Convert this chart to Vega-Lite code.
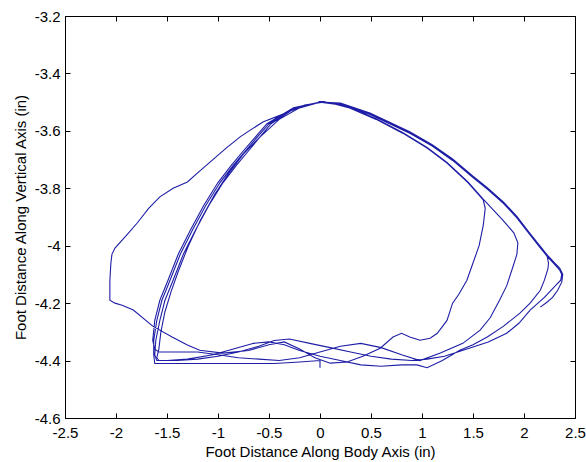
{
  "$schema": "https://vega.github.io/schema/vega-lite/v6.json",
  "width": 510,
  "height": 402,
  "autosize": "none",
  "padding": {"left": 65, "top": 16, "right": 11, "bottom": 44},
  "background": "white",
  "config": {
    "view": {"stroke": "black", "strokeWidth": 1},
    "font": "Liberation Sans",
    "axis": {
      "grid": false,
      "domain": false,
      "offset": -5,
      "tickSize": 5,
      "tickColor": "black",
      "labelColor": "black",
      "titleColor": "black",
      "labelFont": "Liberation Sans",
      "titleFont": "Liberation Sans",
      "labelFontSize": 15,
      "titleFontSize": 15,
      "titleFontWeight": "normal",
      "labelFlush": false,
      "labelOverlap": false
    }
  },
  "data": {"values": [
    {"i":1,"x":0.0,"y":-4.425},{"i":2,"x":0.0,"y":-4.40},{"i":3,"x":-0.2,"y":-4.405},{"i":4,"x":-0.45,"y":-4.41},{"i":5,"x":-0.7,"y":-4.41},{"i":6,"x":-0.95,"y":-4.41},{"i":7,"x":-1.2,"y":-4.41},{"i":8,"x":-1.45,"y":-4.41},{"i":9,"x":-1.62,"y":-4.41},{"i":10,"x":-1.63,"y":-4.38},
    {"i":11,"x":-1.63,"y":-4.33},{"i":12,"x":-1.60,"y":-4.26},{"i":13,"x":-1.55,"y":-4.19},{"i":14,"x":-1.47,"y":-4.12},{"i":15,"x":-1.37,"y":-4.03},{"i":16,"x":-1.25,"y":-3.945},{"i":17,"x":-1.12,"y":-3.86},{"i":18,"x":-0.98,"y":-3.78},{"i":19,"x":-0.85,"y":-3.72},{"i":20,"x":-0.72,"y":-3.665},
    {"i":21,"x":-0.5,"y":-3.575},{"i":22,"x":-0.25,"y":-3.52},{"i":23,"x":0.0,"y":-3.50},{"i":24,"x":0.2,"y":-3.505},{"i":25,"x":0.49,"y":-3.54},{"i":26,"x":0.88,"y":-3.605},{"i":27,"x":1.10,"y":-3.65},{"i":28,"x":1.30,"y":-3.70},{"i":29,"x":1.50,"y":-3.76},{"i":30,"x":1.64,"y":-3.80},
    {"i":31,"x":1.80,"y":-3.85},{"i":32,"x":1.93,"y":-3.90},{"i":33,"x":2.05,"y":-3.955},{"i":34,"x":2.15,"y":-4.00},{"i":35,"x":2.225,"y":-4.033},{"i":36,"x":2.24,"y":-4.06},{"i":37,"x":2.235,"y":-4.08},{"i":38,"x":2.20,"y":-4.12},{"i":39,"x":2.16,"y":-4.155},{"i":40,"x":2.06,"y":-4.20},
    {"i":41,"x":1.96,"y":-4.235},{"i":42,"x":1.80,"y":-4.28},{"i":43,"x":1.64,"y":-4.318},{"i":44,"x":1.50,"y":-4.345},{"i":45,"x":1.37,"y":-4.364},{"i":46,"x":1.2,"y":-4.40},{"i":47,"x":1.05,"y":-4.425},{"i":48,"x":0.95,"y":-4.415},{"i":49,"x":0.8,"y":-4.415},{"i":50,"x":0.6,"y":-4.42},
    {"i":51,"x":0.4,"y":-4.415},{"i":52,"x":0.2,"y":-4.40},{"i":53,"x":0.0,"y":-4.385},{"i":54,"x":-0.2,"y":-4.365},{"i":55,"x":-0.35,"y":-4.345},{"i":56,"x":-0.5,"y":-4.335},{"i":57,"x":-0.65,"y":-4.34},{"i":58,"x":-0.85,"y":-4.36},{"i":59,"x":-1.05,"y":-4.38},{"i":60,"x":-1.3,"y":-4.395},
    {"i":61,"x":-1.5,"y":-4.40},{"i":62,"x":-1.60,"y":-4.40},{"i":63,"x":-1.62,"y":-4.38},{"i":64,"x":-1.61,"y":-4.33},{"i":65,"x":-1.57,"y":-4.26},{"i":66,"x":-1.52,"y":-4.19},{"i":67,"x":-1.44,"y":-4.12},{"i":68,"x":-1.34,"y":-4.03},{"i":69,"x":-1.22,"y":-3.945},{"i":70,"x":-1.09,"y":-3.86},
    {"i":71,"x":-0.95,"y":-3.78},{"i":72,"x":-0.82,"y":-3.72},{"i":73,"x":-0.69,"y":-3.665},{"i":74,"x":-0.48,"y":-3.575},{"i":75,"x":-0.24,"y":-3.52},{"i":76,"x":0.0,"y":-3.50},{"i":77,"x":0.15,"y":-3.507},{"i":78,"x":0.29,"y":-3.52},{"i":79,"x":0.55,"y":-3.56},{"i":80,"x":0.81,"y":-3.608},
    {"i":81,"x":1.05,"y":-3.66},{"i":82,"x":1.245,"y":-3.712},{"i":83,"x":1.45,"y":-3.78},{"i":84,"x":1.6,"y":-3.84},{"i":85,"x":1.62,"y":-3.87},{"i":86,"x":1.60,"y":-3.93},{"i":87,"x":1.56,"y":-4.00},{"i":88,"x":1.50,"y":-4.06},{"i":89,"x":1.44,"y":-4.12},{"i":90,"x":1.36,"y":-4.17},
    {"i":91,"x":1.30,"y":-4.20},{"i":92,"x":1.245,"y":-4.26},{"i":93,"x":1.15,"y":-4.305},{"i":94,"x":1.08,"y":-4.322},{"i":95,"x":0.98,"y":-4.329},{"i":96,"x":0.88,"y":-4.318},{"i":97,"x":0.80,"y":-4.305},{"i":98,"x":0.716,"y":-4.318},{"i":99,"x":0.59,"y":-4.357},{"i":100,"x":0.42,"y":-4.385},
    {"i":101,"x":0.265,"y":-4.405},{"i":102,"x":0.1,"y":-4.409},{"i":103,"x":-0.05,"y":-4.39},{"i":104,"x":-0.2,"y":-4.36},{"i":105,"x":-0.35,"y":-4.335},{"i":106,"x":-0.5,"y":-4.345},{"i":107,"x":-0.7,"y":-4.365},{"i":108,"x":-0.95,"y":-4.374},{"i":109,"x":-1.18,"y":-4.364},{"i":110,"x":-1.30,"y":-4.346},
    {"i":111,"x":-1.45,"y":-4.318},{"i":112,"x":-1.64,"y":-4.28},{"i":113,"x":-1.83,"y":-4.224},{"i":114,"x":-1.94,"y":-4.207},{"i":115,"x":-2.01,"y":-4.20},{"i":116,"x":-2.06,"y":-4.19},{"i":117,"x":-2.06,"y":-4.12},{"i":118,"x":-2.05,"y":-4.06},{"i":119,"x":-2.04,"y":-4.03},{"i":120,"x":-2.01,"y":-4.008},
    {"i":121,"x":-1.90,"y":-3.965},{"i":122,"x":-1.79,"y":-3.92},{"i":123,"x":-1.68,"y":-3.87},{"i":124,"x":-1.57,"y":-3.83},{"i":125,"x":-1.44,"y":-3.80},{"i":126,"x":-1.30,"y":-3.778},{"i":127,"x":-1.18,"y":-3.74},{"i":128,"x":-1.05,"y":-3.70},{"i":129,"x":-0.92,"y":-3.66},{"i":130,"x":-0.78,"y":-3.62},
    {"i":131,"x":-0.56,"y":-3.569},{"i":132,"x":-0.35,"y":-3.54},{"i":133,"x":-0.15,"y":-3.51},{"i":134,"x":0.03,"y":-3.50},{"i":135,"x":0.15,"y":-3.505},{"i":136,"x":0.29,"y":-3.518},{"i":137,"x":0.55,"y":-3.558},{"i":138,"x":0.81,"y":-3.606},{"i":139,"x":1.05,"y":-3.658},{"i":140,"x":1.245,"y":-3.71},
    {"i":141,"x":1.45,"y":-3.778},{"i":142,"x":1.6,"y":-3.838},{"i":143,"x":1.79,"y":-3.91},{"i":144,"x":1.90,"y":-3.955},{"i":145,"x":1.94,"y":-3.99},{"i":146,"x":1.93,"y":-4.03},{"i":147,"x":1.89,"y":-4.075},{"i":148,"x":1.83,"y":-4.14},{"i":149,"x":1.76,"y":-4.19},{"i":150,"x":1.67,"y":-4.25},
    {"i":151,"x":1.57,"y":-4.294},{"i":152,"x":1.40,"y":-4.34},{"i":153,"x":1.18,"y":-4.374},{"i":154,"x":0.98,"y":-4.40},{"i":155,"x":0.8,"y":-4.38},{"i":156,"x":0.6,"y":-4.355},{"i":157,"x":0.4,"y":-4.34},{"i":158,"x":0.2,"y":-4.35},{"i":159,"x":0.0,"y":-4.37},{"i":160,"x":-0.2,"y":-4.39},
    {"i":161,"x":-0.4,"y":-4.40},{"i":162,"x":-0.6,"y":-4.395},{"i":163,"x":-0.8,"y":-4.39},{"i":164,"x":-1.0,"y":-4.38},{"i":165,"x":-1.2,"y":-4.37},{"i":166,"x":-1.4,"y":-4.37},{"i":167,"x":-1.58,"y":-4.37},{"i":168,"x":-1.62,"y":-4.36},{"i":169,"x":-1.64,"y":-4.33},{"i":170,"x":-1.62,"y":-4.26},
    {"i":171,"x":-1.57,"y":-4.19},{"i":172,"x":-1.49,"y":-4.12},{"i":173,"x":-1.39,"y":-4.03},{"i":174,"x":-1.27,"y":-3.945},{"i":175,"x":-1.14,"y":-3.86},{"i":176,"x":-1.0,"y":-3.78},{"i":177,"x":-0.87,"y":-3.72},{"i":178,"x":-0.74,"y":-3.665},{"i":179,"x":-0.52,"y":-3.575},{"i":180,"x":-0.26,"y":-3.52},
    {"i":181,"x":0.0,"y":-3.50},{"i":182,"x":0.2,"y":-3.507},{"i":183,"x":0.49,"y":-3.543},{"i":184,"x":0.88,"y":-3.608},{"i":185,"x":1.10,"y":-3.653},{"i":186,"x":1.30,"y":-3.703},{"i":187,"x":1.50,"y":-3.763},{"i":188,"x":1.64,"y":-3.803},{"i":189,"x":1.80,"y":-3.853},{"i":190,"x":1.93,"y":-3.903},
    {"i":191,"x":2.05,"y":-3.958},{"i":192,"x":2.15,"y":-4.003},{"i":193,"x":2.225,"y":-4.036},{"i":194,"x":2.30,"y":-4.065},{"i":195,"x":2.35,"y":-4.085},{"i":196,"x":2.37,"y":-4.10},{"i":197,"x":2.36,"y":-4.12},{"i":198,"x":2.32,"y":-4.135},{"i":199,"x":2.2,"y":-4.18},{"i":200,"x":2.06,"y":-4.224},
    {"i":201,"x":1.95,"y":-4.27},{"i":202,"x":1.83,"y":-4.305},{"i":203,"x":1.65,"y":-4.335},{"i":204,"x":1.5,"y":-4.353},{"i":205,"x":1.35,"y":-4.37},{"i":206,"x":1.22,"y":-4.385},{"i":207,"x":1.05,"y":-4.395},{"i":208,"x":0.9,"y":-4.40},{"i":209,"x":0.7,"y":-4.395},{"i":210,"x":0.5,"y":-4.385},
    {"i":211,"x":0.3,"y":-4.37},{"i":212,"x":0.1,"y":-4.355},{"i":213,"x":-0.1,"y":-4.34},{"i":214,"x":-0.3,"y":-4.325},{"i":215,"x":-0.45,"y":-4.33},{"i":216,"x":-0.6,"y":-4.35},{"i":217,"x":-0.8,"y":-4.37},{"i":218,"x":-1.0,"y":-4.385},{"i":219,"x":-1.2,"y":-4.395},{"i":220,"x":-1.4,"y":-4.40},
    {"i":221,"x":-1.58,"y":-4.40},{"i":222,"x":-1.60,"y":-4.39},{"i":223,"x":-1.58,"y":-4.36},{"i":224,"x":-1.56,"y":-4.30},{"i":225,"x":-1.52,"y":-4.23},{"i":226,"x":-1.46,"y":-4.16},{"i":227,"x":-1.39,"y":-4.09},{"i":228,"x":-1.29,"y":-4.00},{"i":229,"x":-1.17,"y":-3.91},{"i":230,"x":-1.03,"y":-3.82},
    {"i":231,"x":-0.90,"y":-3.75},{"i":232,"x":-0.75,"y":-3.68},{"i":233,"x":-0.60,"y":-3.625},{"i":234,"x":-0.4,"y":-3.56},{"i":235,"x":-0.2,"y":-3.52},{"i":236,"x":0.0,"y":-3.50},{"i":237,"x":0.2,"y":-3.503},{"i":238,"x":0.49,"y":-3.538},{"i":239,"x":0.88,"y":-3.603},{"i":240,"x":1.10,"y":-3.648},
    {"i":241,"x":1.30,"y":-3.698},{"i":242,"x":1.50,"y":-3.758},{"i":243,"x":1.64,"y":-3.798},{"i":244,"x":1.80,"y":-3.848},{"i":245,"x":1.93,"y":-3.898},{"i":246,"x":2.05,"y":-3.953},{"i":247,"x":2.15,"y":-3.998},{"i":248,"x":2.225,"y":-4.031},{"i":249,"x":2.30,"y":-4.06},{"i":250,"x":2.35,"y":-4.078},
    {"i":251,"x":2.38,"y":-4.10},{"i":252,"x":2.37,"y":-4.127},{"i":253,"x":2.33,"y":-4.155},{"i":254,"x":2.28,"y":-4.18},{"i":255,"x":2.225,"y":-4.197},{"i":256,"x":2.16,"y":-4.214}
  ]},
  "layer": [
    {
      "mark": {"type": "line", "color": "#1e1ea6", "strokeWidth": 1.1, "clip": true},
      "encoding": {
        "x": {
          "field": "x", "type": "quantitative",
          "scale": {"domain": [-2.5, 2.5], "nice": false, "zero": false},
          "axis": {
            "orient": "bottom",
            "values": [-2.5, -2, -1.5, -1, -0.5, 0, 0.5, 1, 1.5, 2, 2.5],
            "labelExpr": "toString(datum.value)",
            "labelPadding": 7,
            "title": "Foot Distance Along Body Axis (in)",
            "titlePadding": 4
          }
        },
        "y": {
          "field": "y", "type": "quantitative",
          "scale": {"domain": [-4.6, -3.2], "nice": false, "zero": false},
          "axis": {
            "orient": "left",
            "values": [-4.6, -4.4, -4.2, -4, -3.8, -3.6, -3.4, -3.2],
            "labelExpr": "toString(datum.value)",
            "labelPadding": 5,
            "title": "Foot Distance Along Vertical Axis (in)",
            "titlePadding": 6
          }
        },
        "order": {"field": "i", "type": "quantitative"}
      }
    },
    {
      "mark": {"type": "line", "opacity": 0},
      "encoding": {
        "x": {
          "field": "x", "type": "quantitative",
          "axis": {
            "orient": "top",
            "values": [-2.5, -2, -1.5, -1, -0.5, 0, 0.5, 1, 1.5, 2, 2.5],
            "labels": false,
            "title": null
          }
        },
        "y": {
          "field": "y", "type": "quantitative",
          "axis": {
            "orient": "right",
            "values": [-4.6, -4.4, -4.2, -4, -3.8, -3.6, -3.4, -3.2],
            "labels": false,
            "title": null
          }
        },
        "order": {"field": "i", "type": "quantitative"}
      }
    }
  ],
  "resolve": {"axis": {"x": "independent", "y": "independent"}}
}
